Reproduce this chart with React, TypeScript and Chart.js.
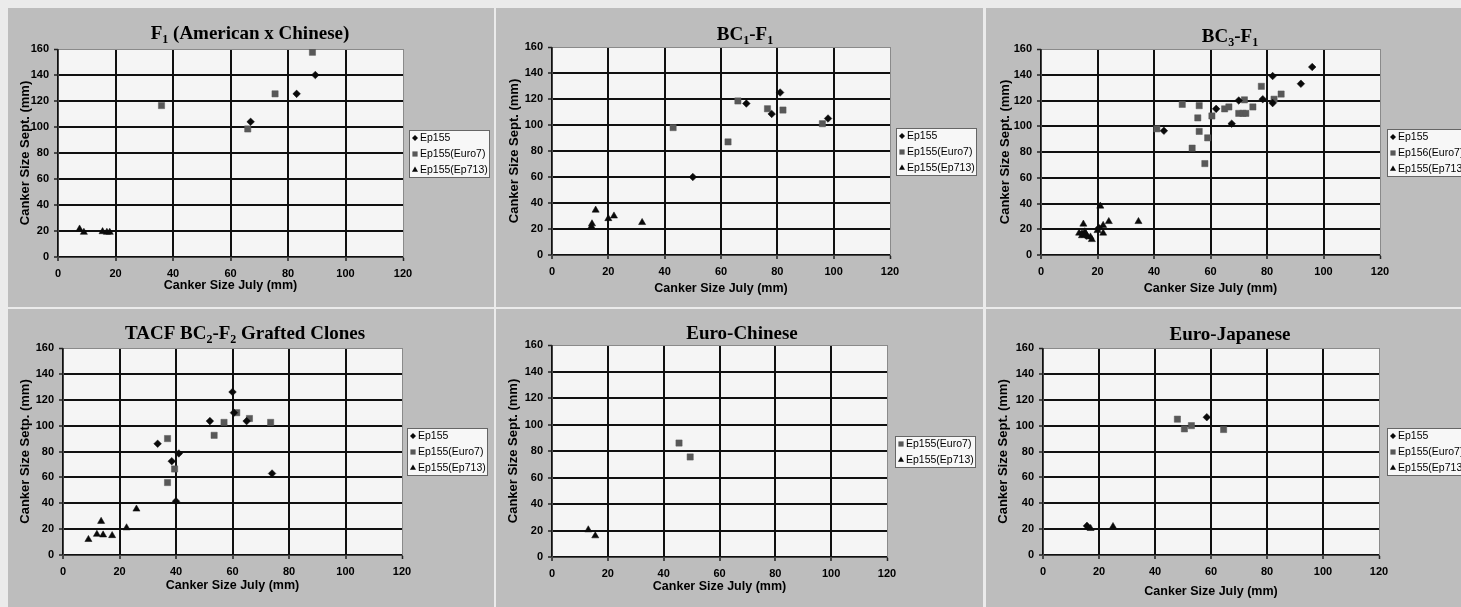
import React, { useEffect, useRef } from 'react';
import { Chart, registerables } from 'chart.js';

Chart.register(...registerables);

type Pt = [number, number];

// ---------- data (Canker Size July (mm), Canker Size Sept. (mm)) ----------
const xTicksMax = 120;
const yTicksMax = 160;
const tickStep = 20;

const seriesLabels = ['Ep155', 'Ep155(Euro7)', 'Ep155(Ep713)'];
const seriesLabelsBC3 = ['Ep155', 'Ep156(Euro7)', 'Ep155(Ep713)'];

// F1 (American x Chinese)
const f1Ep155: Pt[] = [[67, 104], [83, 125.5], [89.5, 140]];
const f1Euro7: Pt[] = [[36, 116.5], [66, 98.5], [75.5, 125.5], [88.5, 157.5]];
const f1Ep713: Pt[] = [[7.5, 21.5], [9, 19], [15.5, 19.5], [17, 19], [18, 19]];

// BC1-F1
const bc1Ep155: Pt[] = [[50, 60], [69, 116.5], [78, 108.5], [81, 125], [98, 105]];
const bc1Euro7: Pt[] = [[43, 98], [62.5, 87], [66, 118.5], [76.5, 112.5], [82, 111.5], [96, 101]];
const bc1Ep713: Pt[] = [[14, 22], [14.2, 24], [15.5, 34.5], [20, 28], [22, 30], [32, 25]];

// BC3-F1
const bc3Ep155: Pt[] = [
  [14.5, 16.5], [16, 15], [20.5, 21], [43.5, 96.5], [62, 113.5], [67.5, 102], [70, 120],
  [78.5, 121], [82, 139], [82, 118], [92, 133], [96, 146],
];
const bc3Euro7: Pt[] = [
  [41, 98], [50, 117], [53.5, 83], [56, 116], [55.5, 106.5], [56, 96], [58, 71], [59, 91],
  [60.5, 108], [65, 113.5], [66.5, 115], [70, 110], [71.5, 110], [72.5, 110], [72, 120.5],
  [75, 115], [78, 131], [82.5, 121], [85, 125],
];
const bc3Ep713: Pt[] = [
  [13.5, 17], [14.5, 15], [15, 24], [15.5, 18], [16, 16], [17.5, 14], [18, 12], [20, 19],
  [21, 38], [22, 23], [22, 17], [24, 26], [34.5, 26],
];

// TACF BC2-F2 Grafted Clones
const tacfEp155: Pt[] = [
  [33.5, 86], [38.5, 72.5], [40, 41.5], [41, 78.5], [52, 103.5], [60, 126], [60.5, 110],
  [65, 103.5], [74, 63],
];
const tacfEuro7: Pt[] = [
  [37, 90], [37, 56], [39.5, 66.5], [53.5, 92.5], [57, 102.5], [61.5, 110], [66, 105.5], [73.5, 102.5],
];
const tacfEp713: Pt[] = [[9, 12], [12, 16], [13.5, 26], [14.2, 15.5], [17.4, 15], [22.5, 21], [26, 35.5]];

// Euro-Chinese
const ecEuro7: Pt[] = [[45.5, 86], [49.5, 75.5]];
const ecEp713: Pt[] = [[13, 20.5], [15.5, 16]];

// Euro-Japanese
const ejEp155: Pt[] = [[15.7, 22.5], [58.5, 106.5]];
const ejEuro7: Pt[] = [[48, 105], [50.5, 97.5], [53, 100], [64.5, 97]];
const ejEp713: Pt[] = [[17, 20.5], [25, 22]];

// ---------- styles ----------
type Kind = 'ep155' | 'euro7' | 'ep713';
const STYLE: Record<Kind, { pointStyle: string; radius: number; color: string }> = {
  ep155: { pointStyle: 'rectRot', radius: 3.8, color: '#0a0a0a' },
  euro7: { pointStyle: 'rect', radius: 4.4, color: '#585858' },
  ep713: { pointStyle: 'triangle', radius: 4.1, color: '#0a0a0a' },
};

const SANS = '"Liberation Sans", Arial, Helvetica, sans-serif';
const SERIF = '"Liberation Serif", "Times New Roman", serif';

type Seg = { t: string; sub?: boolean };
type SeriesDef = { kind: Kind; label: string; data: Pt[] };
type PanelCfg = {
  title: Seg[];
  yTitle: string;
  series: SeriesDef[];
  rect: { x: number; y: number; w: number; h: number };
  area: { l: number; t: number; r: number; b: number };
  titlePos: { x: number; y: number };
  yTitleX: number;
  xTitleY: number;
  legendLeft: number;
};

const YT = 'Canker Size Sept. (mm)';

const PANELS: PanelCfg[] = [
  {
    title: [{ t: 'F' }, { t: '1', sub: true }, { t: ' (American x Chinese)' }],
    yTitle: YT,
    series: [
      { kind: 'ep155', label: seriesLabels[0], data: f1Ep155 },
      { kind: 'euro7', label: seriesLabels[1], data: f1Euro7 },
      { kind: 'ep713', label: seriesLabels[2], data: f1Ep713 },
    ],
    rect: { x: 8, y: 8, w: 486, h: 299 },
    area: { l: 58, t: 49, r: 403, b: 257 },
    titlePos: { x: 250, y: 32 },
    yTitleX: 25,
    xTitleY: 286,
    legendLeft: 409,
  },
  {
    title: [{ t: 'BC' }, { t: '1', sub: true }, { t: '-F' }, { t: '1', sub: true }],
    yTitle: YT,
    series: [
      { kind: 'ep155', label: seriesLabels[0], data: bc1Ep155 },
      { kind: 'euro7', label: seriesLabels[1], data: bc1Euro7 },
      { kind: 'ep713', label: seriesLabels[2], data: bc1Ep713 },
    ],
    rect: { x: 496, y: 8, w: 487, h: 299 },
    area: { l: 552, t: 47, r: 890, b: 255 },
    titlePos: { x: 745, y: 33 },
    yTitleX: 514,
    xTitleY: 289,
    legendLeft: 896,
  },
  {
    title: [{ t: 'BC' }, { t: '3', sub: true }, { t: '-F' }, { t: '1', sub: true }],
    yTitle: YT,
    series: [
      { kind: 'ep155', label: seriesLabelsBC3[0], data: bc3Ep155 },
      { kind: 'euro7', label: seriesLabelsBC3[1], data: bc3Euro7 },
      { kind: 'ep713', label: seriesLabelsBC3[2], data: bc3Ep713 },
    ],
    rect: { x: 986, y: 8, w: 487, h: 299 },
    area: { l: 1041, t: 49, r: 1380, b: 255 },
    titlePos: { x: 1230, y: 35 },
    yTitleX: 1005,
    xTitleY: 289,
    legendLeft: 1387,
  },
  {
    title: [{ t: 'TACF BC' }, { t: '2', sub: true }, { t: '-F' }, { t: '2', sub: true }, { t: ' Grafted Clones' }],
    yTitle: 'Canker Size Setp. (mm)',
    series: [
      { kind: 'ep155', label: seriesLabels[0], data: tacfEp155 },
      { kind: 'euro7', label: seriesLabels[1], data: tacfEuro7 },
      { kind: 'ep713', label: seriesLabels[2], data: tacfEp713 },
    ],
    rect: { x: 8, y: 309, w: 486, h: 298 },
    area: { l: 63, t: 348, r: 402, b: 555 },
    titlePos: { x: 245, y: 332 },
    yTitleX: 25,
    xTitleY: 586,
    legendLeft: 407,
  },
  {
    title: [{ t: 'Euro-Chinese' }],
    yTitle: YT,
    series: [
      { kind: 'euro7', label: seriesLabels[1], data: ecEuro7 },
      { kind: 'ep713', label: seriesLabels[2], data: ecEp713 },
    ],
    rect: { x: 496, y: 309, w: 487, h: 298 },
    area: { l: 552, t: 345, r: 887, b: 557 },
    titlePos: { x: 742, y: 332 },
    yTitleX: 513,
    xTitleY: 587,
    legendLeft: 895,
  },
  {
    title: [{ t: 'Euro-Japanese' }],
    yTitle: YT,
    series: [
      { kind: 'ep155', label: seriesLabels[0], data: ejEp155 },
      { kind: 'euro7', label: seriesLabels[1], data: ejEuro7 },
      { kind: 'ep713', label: seriesLabels[2], data: ejEp713 },
    ],
    rect: { x: 986, y: 309, w: 487, h: 298 },
    area: { l: 1043, t: 348, r: 1379, b: 555 },
    titlePos: { x: 1230, y: 333 },
    yTitleX: 1003,
    xTitleY: 592,
    legendLeft: 1387,
  },
];

function drawMarker(ctx: CanvasRenderingContext2D, kind: Kind, x: number, y: number) {
  const s = STYLE[kind];
  ctx.fillStyle = s.color;
  ctx.beginPath();
  if (kind === 'ep155') {
    const r = 3;
    ctx.moveTo(x, y - r);
    ctx.lineTo(x + r, y);
    ctx.lineTo(x, y + r);
    ctx.lineTo(x - r, y);
    ctx.closePath();
  } else if (kind === 'euro7') {
    ctx.rect(x - 2.6, y - 2.6, 5.2, 5.2);
  } else {
    const r = 3.5;
    ctx.moveTo(x, y - r);
    ctx.lineTo(x + r * 0.866, y + r * 0.5);
    ctx.lineTo(x - r * 0.866, y + r * 0.5);
    ctx.closePath();
  }
  ctx.fill();
}

const Y_TITLE_SIZE = 13;
const X_TITLE_SIZE = 12.5;
const LH = 1.2;

function Panel({ cfg }: { cfg: PanelCfg }) {
  const ref = useRef<HTMLCanvasElement>(null);
  const { rect, area } = cfg;

  useEffect(() => {
    const canvas = ref.current;
    if (!canvas) return;
    const l = area.l - rect.x;
    const t = area.t - rect.y;
    const r = area.r - rect.x;
    const b = area.b - rect.y;
    const padLeft = cfg.yTitleX - rect.x - (Y_TITLE_SIZE * LH) / 2;
    const yWidth = l - padLeft;
    const xHeight = cfg.xTitleY - rect.y + (X_TITLE_SIZE * LH) / 2 - b;
    const padBottom = Math.max(0, rect.h - b - xHeight);

    const edge = (v: number, max: number) => v === max;

    const deco = {
      id: 'deco' + cfg.titlePos.x,
      beforeDraw(chart: any) {
        const ca = chart.chartArea;
        const c = chart.ctx;
        c.save();
        c.fillStyle = '#f5f5f5';
        c.fillRect(ca.left, ca.top, ca.right - ca.left, ca.bottom - ca.top);
        c.restore();
      },
      afterDraw(chart: any) {
        const c: CanvasRenderingContext2D = chart.ctx;
        const ca = chart.chartArea;
        c.save();
        // title with subscripts
        const mainFont = `bold 19px ${SERIF}`;
        const subFont = `bold 12px ${SERIF}`;
        let total = 0;
        const widths = cfg.title.map((s) => {
          c.font = s.sub ? subFont : mainFont;
          const w = c.measureText(s.t).width;
          total += w;
          return w;
        });
        let x = cfg.titlePos.x - rect.x - total / 2;
        const base = cfg.titlePos.y - rect.y + 6.5;
        c.fillStyle = '#000';
        c.textBaseline = 'alphabetic';
        c.textAlign = 'left';
        cfg.title.forEach((s, i) => {
          c.font = s.sub ? subFont : mainFont;
          c.fillText(s.t, x, s.sub ? base + 4 : base);
          x += widths[i];
        });
        // legend
        const n = cfg.series.length;
        const boxH = 16 * n - 1;
        const boxW = 80;
        const cy = (ca.top + ca.bottom) / 2;
        const top = Math.round(cy - boxH / 2);
        const left = cfg.legendLeft - rect.x;
        c.fillStyle = '#f7f7f7';
        c.fillRect(left, top, boxW, boxH);
        c.strokeStyle = '#666';
        c.lineWidth = 1;
        c.strokeRect(left + 0.5, top + 0.5, boxW, boxH);
        c.font = `10.5px ${SANS}`;
        c.textBaseline = 'middle';
        cfg.series.forEach((s, i) => {
          const yy = top + 8 + 16 * i;
          drawMarker(c, s.kind, left + 6, yy);
          c.fillStyle = '#000';
          c.fillText(s.label, left + 11, yy + 0.5);
        });
        c.restore();
      },
    };

    const chart = new Chart(canvas, {
      type: 'scatter',
      data: {
        datasets: cfg.series.map((s) => ({
          label: s.label,
          data: s.data.map(([px, py]) => ({ x: px, y: py })),
          pointStyle: STYLE[s.kind].pointStyle as any,
          pointRadius: STYLE[s.kind].radius,
          pointHoverRadius: STYLE[s.kind].radius,
          backgroundColor: STYLE[s.kind].color,
          borderColor: STYLE[s.kind].color,
          borderWidth: 0.5,
        })),
      },
      options: {
        animation: false,
        responsive: false,
        maintainAspectRatio: false,
        devicePixelRatio: 1,
        layout: { padding: { left: padLeft, top: t, right: rect.w - r, bottom: padBottom } },
        plugins: {
          legend: { display: false },
          title: { display: false },
          tooltip: { enabled: false },
        },
        scales: {
          x: {
            type: 'linear',
            min: 0,
            max: xTicksMax,
            afterFit: (s: any) => {
              s.height = xHeight;
            },
            ticks: {
              stepSize: tickStep,
              color: '#000',
              padding: 6,
              font: { family: SANS, size: 11, weight: 'bold' },
            },
            grid: {
              color: (ctx: any) => (ctx.tick && edge(ctx.tick.value, xTicksMax) ? '#8a8a8a' : '#101010'),
              lineWidth: (ctx: any) => (ctx.tick && edge(ctx.tick.value, xTicksMax) ? 1 : 2),
              tickLength: 4,
              tickColor: '#222',
              tickWidth: 1.5,
            },
            border: { display: true, color: '#444', width: 1 },
            title: {
              display: true,
              text: 'Canker Size July (mm)',
              color: '#000',
              padding: 0,
              font: { family: SANS, size: X_TITLE_SIZE, weight: 'bold', lineHeight: LH },
            },
          },
          y: {
            type: 'linear',
            min: 0,
            max: yTicksMax,
            afterFit: (s: any) => {
              s.width = yWidth;
            },
            ticks: {
              stepSize: tickStep,
              color: '#000',
              padding: 5,
              font: { family: SANS, size: 11, weight: 'bold' },
            },
            grid: {
              color: (ctx: any) => (ctx.tick && edge(ctx.tick.value, yTicksMax) ? '#8a8a8a' : '#101010'),
              lineWidth: (ctx: any) => (ctx.tick && edge(ctx.tick.value, yTicksMax) ? 1 : 2),
              tickLength: 4,
              tickColor: '#222',
              tickWidth: 1.5,
            },
            border: { display: true, color: '#444', width: 1 },
            title: {
              display: true,
              text: cfg.yTitle,
              color: '#000',
              padding: 0,
              font: { family: SANS, size: Y_TITLE_SIZE, weight: 'bold', lineHeight: LH },
            },
          },
        },
      },
      plugins: [deco],
    } as any);
    return () => chart.destroy();
  }, []);

  return (
    <div
      style={{
        position: 'absolute',
        left: rect.x,
        top: rect.y,
        width: rect.w,
        height: rect.h,
        background: '#bdbdbd',
      }}
    >
      <canvas ref={ref} width={rect.w} height={rect.h} style={{ display: 'block', width: rect.w, height: rect.h }} />
    </div>
  );
}

export default function App() {
  return (
    <div
      style={{
        position: 'fixed',
        left: 0,
        top: 0,
        width: 1461,
        height: 607,
        overflow: 'hidden',
        background: '#ebebeb',
      }}
    >
      {PANELS.map((p, i) => (
        <Panel key={i} cfg={p} />
      ))}
    </div>
  );
}
